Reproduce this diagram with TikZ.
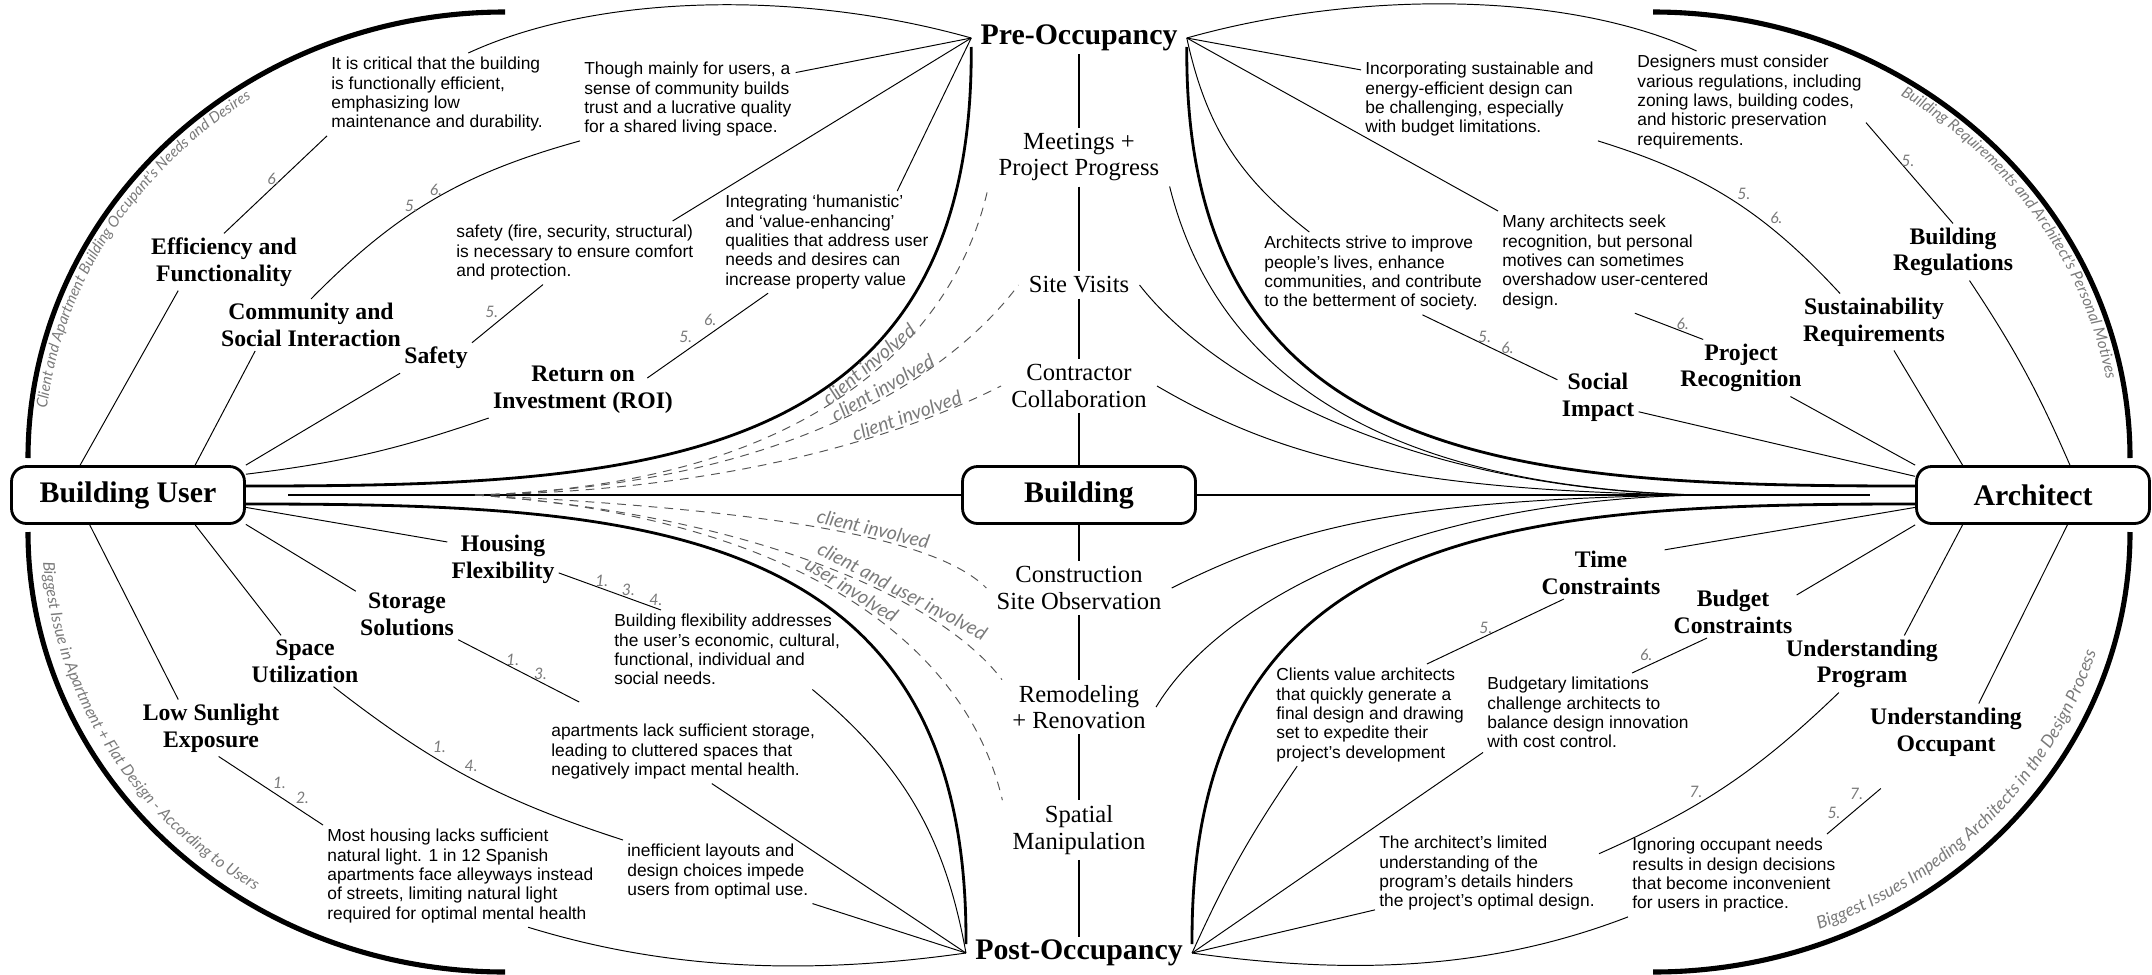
\documentclass[tikz,border=0pt]{standalone}
\usepackage{fontspec}
\setmainfont{Liberation Serif}
\setsansfont{Liberation Sans}
\newfontfamily\notefont{Lato}
\usetikzlibrary{decorations.text}
\definecolor{notegray}{HTML}{7A7A7A}
\definecolor{dashgray}{HTML}{555555}
\newcommand\rimfont[1]{\notefont\itshape\fontsize{#1}{10}\selectfont}

\begin{document}
\begin{tikzpicture}[x=.02cm,y=-.02cm,
  hubbox/.style={draw,line width=1.6pt,rounded corners=.3cm,minimum width=4.66cm,minimum height=1.14cm,font=\bfseries\fontsize{17}{20}\selectfont},
  phase/.style={font=\bfseries\fontsize{17}{20}\selectfont,inner xsep=.18cm,inner ysep=.06cm},
  stage/.style={font=\fontsize{14}{15.2}\selectfont,align=center,inner xsep=.2cm,inner ysep=.1cm},
  topic/.style={font=\bfseries\fontsize{13.5}{15.2}\selectfont,align=center,inner sep=.08cm},
  desc/.style={font=\sffamily\fontsize{9.9}{11}\selectfont,align=left,anchor=north west,inner sep=.08cm},
  num/.style={font=\notefont\itshape\fontsize{9}{10}\selectfont,text=notegray,inner sep=1pt},
  note/.style={font=\notefont\itshape\fontsize{11}{12}\selectfont,text=notegray,inner sep=1pt},
  link/.style={line width=.55pt},
  spine/.style={line width=1.1pt},
  flow/.style={line width=1.6pt},
  rim/.style={line width=2.9pt},
  lead/.style={draw=dashgray,line width=.55pt,dash pattern=on 5pt off 4pt},
  rimtext/.style={decorate,decoration={text along path,text align=center,text color=notegray,text={#1}}}]
\useasboundingbox (0,0) rectangle (2152,974);

\node[hubbox] (bu) at (128,495) {Building User};
\node[hubbox] (bld) at (1079,495) {Building};
\node[hubbox] (arch) at (2033,495) {Architect};
\node[phase] (pre) at (1079,38) {Pre-Occupancy};
\node[phase] (post) at (1079,953) {Post-Occupancy};
\node[stage] (m1) at (1079,157) {Meetings +\\Project Progress};
\node[stage] (m2) at (1079,285) {Site Visits};
\node[stage] (m3) at (1079,386) {Contractor\\Collaboration};
\node[stage] (m4) at (1079,588) {Construction\\Site Observation};
\node[stage] (m5) at (1079,707) {Remodeling\\+ Renovation};
\node[stage] (m6) at (1079,830) {Spatial\\Manipulation};

\node[topic] (eff) at (224,262) {Efficiency and\\Functionality};
\node[topic] (com) at (311,325) {Community and\\Social Interaction};
\node[topic] (saf) at (436,358) {Safety};
\node[topic] (roi) at (583,390) {Return on\\Investment (ROI)};
\node[topic] (reg) at (1953,252) {Building\\Regulations};
\node[topic] (sus) at (1874,322) {Sustainability\\Requirements};
\node[topic] (rec) at (1741,368) {Project\\Recognition};
\node[topic] (soc) at (1598,397) {Social\\Impact};
\node[topic] (hf) at (503,559) {Housing\\Flexibility};
\node[topic] (sto) at (407,614) {Storage\\Solutions};
\node[topic] (sp) at (305,661) {Space\\Utilization};
\node[topic] (ls) at (211,728) {Low Sunlight\\Exposure};
\node[topic] (tim) at (1601,573) {Time\\Constraints};
\node[topic] (bud) at (1733,612) {Budget\\Constraints};
\node[topic] (prog) at (1862,664) {Understanding\\Program};
\node[topic] (occ) at (1946,732) {Understanding\\Occupant};

\node[desc] (effd) at (327,53) {It is critical that the building\\is functionally efficient,\\emphasizing low\\maintenance and durability.};
\node[desc] (comd) at (580,58) {Though mainly for users, a\\sense of community builds\\trust and a lucrative quality\\for a shared living space.};
\node[desc] (safd) at (452,221) {safety (fire, security, structural)\\is necessary to ensure comfort\\and protection.};
\node[desc] (roid) at (721,191) {Integrating ‘humanistic’\\and ‘value-enhancing’\\qualities that address user\\needs and desires can\\increase property value};
\node[desc] (susd) at (1361,58) {Incorporating sustainable and\\energy-efficient design can\\be challenging, especially\\with budget limitations.};
\node[desc] (regd) at (1633,51) {Designers must consider\\various regulations, including\\zoning laws, building codes,\\and historic preservation\\requirements.};
\node[desc] (recd) at (1498,211) {Many architects seek\\recognition, but personal\\motives can sometimes\\overshadow user-centered\\design.};
\node[desc] (socd) at (1260,232) {Architects strive to improve\\people's lives, enhance\\communities, and contribute\\to the betterment of society.};
\node[desc] (hfd) at (610,610) {Building flexibility addresses\\the user's economic, cultural,\\functional, individual and\\social needs.};
\node[desc] (stod) at (547,720) {apartments lack sufficient storage,\\leading to cluttered spaces that\\negatively impact mental health.};
\node[desc] (spd) at (623,840) {inefficient layouts and\\design choices impede\\users from optimal use.};
\node[desc] (lsd) at (323,825) {Most housing lacks sufficient\\natural light. 1 in 12 Spanish\\apartments face alleyways instead\\of streets, limiting natural light\\required for optimal mental health};
\node[desc] (timd) at (1272,664) {Clients value architects\\that quickly generate a\\final design and drawing\\set to expedite their\\project’s development};
\node[desc] (budd) at (1483,673) {Budgetary limitations\\challenge architects to\\balance design innovation\\with cost control.};
\node[desc] (progd) at (1375,832) {The architect's limited\\understanding of the\\program's details hinders\\the project's optimal design.};
\node[desc] (occd) at (1628,834) {Ignoring occupant needs\\results in design decisions\\that become inconvenient\\for users in practice.};

\coordinate (ljoin) at (288,495);
\coordinate (rjoin) at (1870,495);
\coordinate (lhub) at (475,495);
\coordinate (rhub) at (1700,495);

\draw[rim] (28,458) arc[start angle=180,end angle=270,x radius=477,y radius=446];
\draw[rim] (1653,12) arc[start angle=270,end angle=360,x radius=477,y radius=446];
\draw[rim] (28,532) arc[start angle=180,end angle=90,x radius=477,y radius=440];
\draw[rim] (2130,532) arc[start angle=0,end angle=90,x radius=477,y radius=440];
\path[rimtext={|\rimfont{8.6}|Client and Apartment Building Occupant's Needs and Desires}] (59.7,569.3) arc[start angle=165,end angle=257,x radius=461,y radius=430];
\path[rimtext={|\rimfont{8.9}|Building Requirements and Architect's Personal Motives}] (1764.5,40.8) arc[start angle=284,end angle=369,x radius=461,y radius=430];
\path[rimtext={|\rimfont{9.1}|Biggest Issue in Apartment + Flat Design - According to Users}] (60,415) arc[start angle=196,end angle=104,x radius=463,y radius=426];
\path[rimtext={|\rimfont{9.9}|Biggest Issues Impeding Architects in the Design Process}] (1677,957) arc[start angle=87,end angle=-3,x radius=462,y radius=426];

\draw[flow] ([yshift=.18cm]bu.east) .. controls +(395,0) and +(3,423) .. ([yshift=-.18cm]pre.west);
\draw[flow] ([yshift=.18cm]arch.west) .. controls +(-395,0) and +(-3,423) .. ([yshift=-.18cm]pre.east);
\draw[flow] ([yshift=-.18cm]bu.east) .. controls +(395,0) and +(3,-423) .. ([yshift=.18cm]post.west);
\draw[flow] ([yshift=-.18cm]arch.west) .. controls +(-395,0) and +(-3,-423) .. ([yshift=.18cm]post.east);

\draw[spine] (pre) -- (m1);
\draw[spine] (m1) -- (m2);
\draw[spine] (m2) -- (m3);
\draw[spine] (m3) -- (bld);
\draw[spine] (bld) -- (m4);
\draw[spine] (m4) -- (m5);
\draw[spine] (m5) -- (m6);
\draw[spine] (m6) -- (post);
\draw[spine] (ljoin) -- (bld.west);
\draw[spine] (bld.east) -- (rjoin);

\draw[lead] (lhub) .. controls +(350,-10) and +(-30,140) .. node[note,sloped,above,pos=.55]{client involved} (m1.south west);
\draw[lead] (lhub) .. controls +(330,-10) and +(-60,80) .. node[note,sloped,above,pos=.58]{client involved} (m2.west);
\draw[lead] (lhub) .. controls +(300,-5) and +(-60,30) .. node[note,sloped,above,pos=.68]{client involved} (m3.west);
\draw[lead] (lhub) .. controls +(300,15) and +(-50,-50) .. node[note,sloped,above,pos=.6]{client involved} (m4.west);
\draw[lead] (lhub) .. controls +(280,20) and +(-60,-80) .. node[note,sloped,above,pos=.66]{client and user involved} (m5.north west);
\draw[lead] (lhub) .. controls +(300,20) and +(-40,-170) .. node[note,sloped,above,pos=.52]{user involved} (m6.north west);

\draw[link] (m1.south east) .. controls +(50,200) and +(-300,-8) .. (rhub);
\draw[link] (m2.east) .. controls +(70,90) and +(-300,-6) .. (rhub);
\draw[link] (m3.east) .. controls +(120,70) and +(-300,-4) .. (rhub);
\draw[link] (m4.east) .. controls +(120,-60) and +(-300,4) .. (rhub);
\draw[link] (m5.east) .. controls +(60,-100) and +(-300,6) .. (rhub);

\draw[link] (pre.west) .. controls +(-170,-48) and +(130,-60) .. (effd.53);
\draw[link] (pre.west) -- (comd.14);
\draw[link] (pre.west) -- (safd.18);
\draw[link] (pre.west) -- (roid.36);
\draw[link] (effd.south west) -- node[num,pos=.44,left]{6.} (eff.north);
\draw[link] (comd.south west) to[bend right=15] node[num,pos=.49,above]{6.} node[num,pos=.59,above]{5.} (com.north);
\draw[link] (safd.225) -- node[num,pos=.6,above left]{5.} (saf.north east);
\draw[link] (roid.221) -- node[num,pos=.41,above left]{6.} node[num,pos=.61,above left]{5.} ([xshift=-.6cm,yshift=.24cm]roi.east);
\draw[link] (eff.212) -- (bu.148);
\draw[link] (com.205) -- (bu.24);
\draw[link] (saf.south west) -- (bu.north east);
\draw[link] (roi.south west) to[bend left=6] (bu.10);

\draw[link] (pre.east) .. controls +(170,-48) and +(-130,-60) .. (regd.136);
\draw[link] (pre.east) -- (susd.166);
\draw[link] (pre.east) -- (recd.north west);
\draw[link] (pre.east) to[bend right=20] (socd.147);
\draw[link] (regd.-10) -- node[num,pos=.38,right]{5.} (reg.north);
\draw[link] (susd.south east) to[bend left=15] node[num,pos=.52,above right]{5.} node[num,pos=.67,above right]{6.} (sus.140);
\draw[link] (recd.-60) -- node[num,pos=.7,above]{6.} (rec.143);
\draw[link] (socd.-40) -- node[num,pos=.46,above]{5.} node[num,pos=.63,above]{6.} (soc.157);
\draw[link] (soc.-20) -- (arch.171);
\draw[link] (rec.-30) -- (arch.north west);
\draw[link] (sus.-55) -- (arch.157);
\draw[link] (reg.-60) to[bend left=5] (arch.39);

\draw[link] (post.west) .. controls +(-170,24) and +(130,40) .. (lsd.-37);
\draw[link] (post.west) -- (spd.south east);
\draw[link] (post.west) -- (stod.-48);
\draw[link] (post.west) to[bend right=20] (hfd.-25);
\draw[link] (hf.-14) -- node[num,pos=.42,above]{1.} node[num,pos=.68,above]{3.} node[num,pos=.95,above]{4.} (hfd.149);
\draw[link] (sto.south east) -- node[num,pos=.45,above]{1.} node[num,pos=.68,above]{3.} ([yshift=.36cm]stod.163);
\draw[link] (sp.-42) to[bend right=10] node[num,pos=.35,above right]{1.} node[num,pos=.47,above right]{4.} (spd.north west);
\draw[link] (ls.-75) -- node[num,pos=.5,above right]{1.} node[num,pos=.72,above right]{2.} (lsd.north west);
\draw[link] (hf.163) -- (bu.-6);
\draw[link] (sto.156) -- (bu.-14);
\draw[link] (sp.133) -- (bu.-24);
\draw[link] (ls.139) -- (bu.218);

\draw[link] (post.east) to[bend left=5] (timd.215);
\draw[link] (post.east) -- (budd.south west);
\draw[link] (post.east) -- (progd.198);
\draw[link] (post.east) .. controls +(170,24) and +(-130,50) .. (occd.south west);
\draw[link] (timd.42) -- node[num,pos=.43,above]{5.} (tim.215);
\draw[link] (budd.42) -- node[num,pos=.3,above left]{6.} (bud.225);
\draw[link] (progd.10) to[bend right=10] node[num,pos=.4,above left]{7.} (prog.231);
\draw[link] (occd.24) -- node[num,pos=.29,above left]{5.} node[num,pos=.71,above left]{7.} ([xshift=.3cm,yshift=-.56cm]occ.south west);
\draw[link] (tim.20) -- (arch.186);
\draw[link] (bud.15) -- (arch.south west);
\draw[link] (prog.34) -- (arch.203);
\draw[link] (occ.41) -- (arch.-41);
\end{tikzpicture}
\end{document}
